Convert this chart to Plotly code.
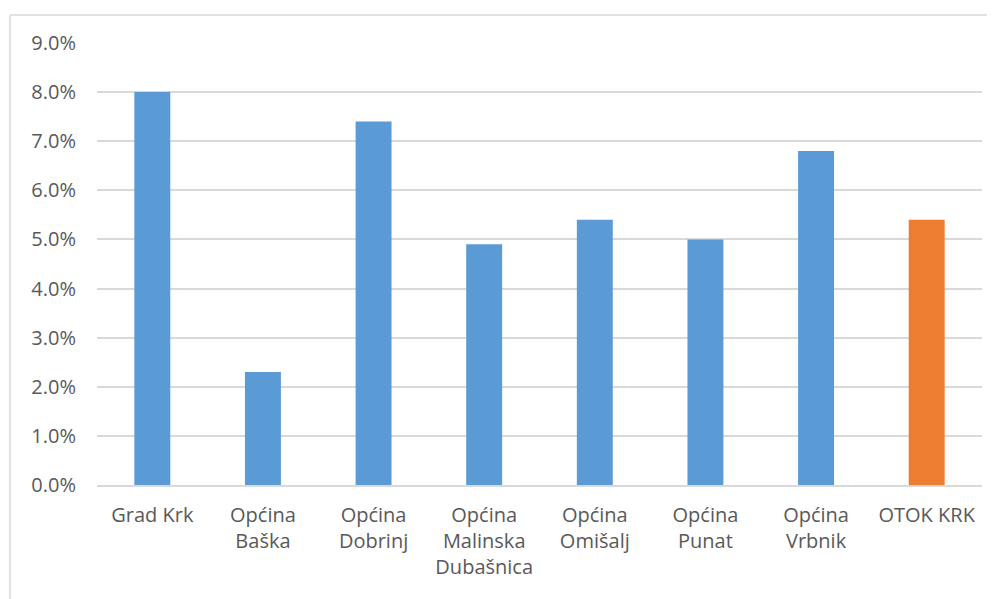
import plotly.graph_objects as go

categories = ["Grad Krk", "Općina<br>Baška", "Općina<br>Dobrinj", "Općina<br>Malinska<br>Dubašnica",
              "Općina<br>Omišalj", "Općina<br>Punat", "Općina<br>Vrbnik", "OTOK KRK"]
values = [0.080, 0.023, 0.074, 0.049, 0.054, 0.050, 0.068, 0.054]
bar_colors = ["#5B9BD5"] * 7 + ["#ED7D31"]
y_ticks = [i / 100 for i in range(0, 10)]

OFF = 8  # page body margin
W, H = 995 - OFF, 599 - OFF
L, R, T, B = 97 - OFF, 13, 43 - OFF, 114
pw, ph = W - L - R, H - T - B

def px_x(x):
    return (x - OFF - L) / pw

def px_y(y):
    return (H - B - (y - OFF)) / ph

fig = go.Figure(go.Bar(
    x=categories, y=values, marker=dict(color=bar_colors, line=dict(width=0)),
    hoverinfo="skip",
))

font = dict(family="Open Sans", size=20, color="#595959")

fig.update_layout(
    width=W, height=H,
    margin=dict(l=L, r=R, t=T, b=B),
    paper_bgcolor="white", plot_bgcolor="white",
    bargap=0.675,
    showlegend=False,
    font=font,
    xaxis=dict(showgrid=False, showline=True, linecolor="#D9D9D9", linewidth=1.5,
               ticks="", tickfont=font, ticklabelstandoff=11, tickangle=0),
    yaxis=dict(range=[0, 0.09], tickvals=y_ticks, tickformat=".1%",
               showgrid=True, gridcolor="#D9D9D9", gridwidth=1.5, zeroline=False,
               showline=False, ticks="", tickfont=font, ticklabelstandoff=20),
    shapes=[
        dict(type="line", xref="paper", yref="paper", x0=px_x(10), x1=px_x(1000),
             y0=px_y(15), y1=px_y(15), line=dict(color="#D9D9D9", width=1.5)),
        dict(type="line", xref="paper", yref="paper", x0=px_x(10), x1=px_x(10),
             y0=px_y(15), y1=px_y(610), line=dict(color="#D9D9D9", width=1.5)),
    ],
)

fig.write_html("out.html")
